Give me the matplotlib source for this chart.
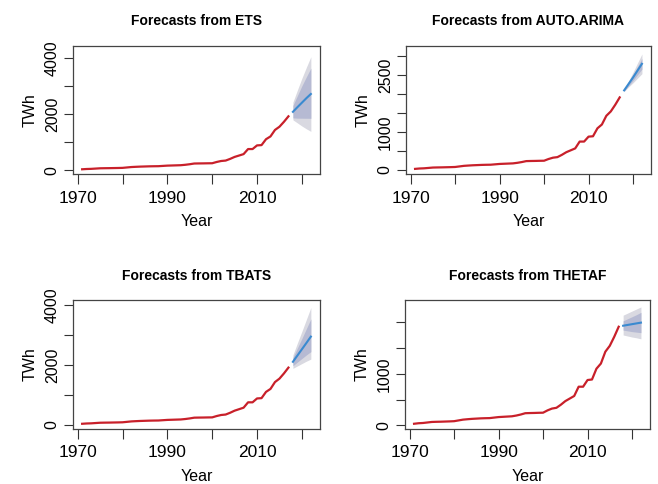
import numpy as np
import matplotlib
matplotlib.use('Agg')
import matplotlib.pyplot as plt

plt.rcParams['font.family'] = ['Liberation Sans', 'DejaVu Sans']

years = list(range(1971, 2018))
twh = [30, 40, 45, 55, 65, 68, 70, 73, 76, 80,
       95, 110, 118, 125, 130, 135, 138, 140, 150, 160,
       165, 170, 175, 190, 210, 235, 238, 240, 243, 245,
       290, 325, 340, 400, 470, 520, 570, 750, 750, 880,
       890, 1100, 1200, 1430, 1545, 1720, 1915]
fc_years = [2018, 2019, 2020, 2021, 2022]

# forecasts: mean, lo80, hi80, lo95, hi95
ets_mean = [2075, 2240, 2400, 2560, 2710]
ets_lo80 = [1860, 1850, 1848, 1846, 1845]
ets_hi80 = [2300, 2650, 3000, 3320, 3630]
ets_lo95 = [1790, 1680, 1570, 1470, 1380]
ets_hi95 = [2420, 2850, 3270, 3660, 4035]

arima_mean = [2100, 2270, 2440, 2620, 2800]
arima_lo80 = [2080, 2220, 2360, 2510, 2660]
arima_hi80 = [2120, 2320, 2520, 2730, 2940]
arima_lo95 = [2070, 2190, 2300, 2420, 2540]
arima_hi95 = [2130, 2350, 2580, 2820, 3060]

tbats_mean = [2110, 2320, 2530, 2740, 2955]
tbats_lo80 = [1980, 2100, 2220, 2340, 2450]
tbats_hi80 = [2250, 2570, 2890, 3220, 3550]
tbats_lo95 = [1890, 1970, 2050, 2130, 2200]
tbats_hi95 = [2340, 2740, 3130, 3530, 3930]

theta_mean = [1935, 1950, 1965, 1980, 1995]
theta_lo80 = [1850, 1835, 1820, 1810, 1800]
theta_hi80 = [2030, 2070, 2110, 2150, 2195]
theta_lo95 = [1755, 1735, 1715, 1700, 1680]
theta_hi95 = [2140, 2180, 2220, 2260, 2300]

x_ticks = [1970, 1980, 1990, 2000, 2010, 2020]
x_labels = ['1970', '', '1990', '', '2010', '']

RED = '#c8202a'
BLUE = '#3a8ad0'
OUTER = '#d9d9e1'
INNER = '#b6bad3'


def panel(ax, title, mean, lo80, hi80, lo95, hi95, ylim, yticks, ylabels):
    ax.fill_between(fc_years, lo95, hi95, color=OUTER, lw=0)
    ax.fill_between(fc_years, lo80, hi80, color=INNER, lw=0)
    ax.plot(years, twh, color=RED, lw=1.6)
    ax.plot(fc_years, mean, color=BLUE, lw=1.5)
    ax.set_xlim(1968.96, 2024.04)
    ax.set_ylim(*ylim)
    ax.set_xticks(x_ticks)
    ax.set_xticklabels(x_labels, fontsize=12.5)
    ax.set_yticks(yticks)
    ax.set_yticklabels(ylabels, fontsize=11.5, rotation=90, va='center')
    ax.tick_params(axis='x', length=7, width=0.8, pad=5, color='#333333')
    ax.tick_params(axis='y', length=6.5, width=0.8, pad=3, color='#333333')
    for s in ax.spines.values():
        s.set_linewidth(0.9)
        s.set_color('#444444')
    ax.set_title(title, fontsize=10, fontweight='bold', pad=15)
    ax.set_xlabel('Year', fontsize=11.5, labelpad=6)
    ax.set_ylabel('TWh', fontsize=11.5, labelpad=5)


fig = plt.figure(figsize=(6.58, 4.84), dpi=100)
w1 = 247 / 658
w2 = 245 / 658
h = 128.3 / 484
ax1 = fig.add_axes([73 / 658, 1 - 174 / 484, w1, h])
ax2 = fig.add_axes([406 / 658, 1 - 174 / 484, w2, h])
ax3 = fig.add_axes([73 / 658, 1 - 428.7 / 484, w1, h])
ax4 = fig.add_axes([405 / 658, 1 - 428.7 / 484, w2, h])

panel(ax1, 'Forecasts from ETS', ets_mean, ets_lo80, ets_hi80, ets_lo95, ets_hi95,
      (-138, 4429), [0, 1000, 2000, 3000, 4000], ['0', '', '2000', '', '4000'])
panel(ax2, 'Forecasts from AUTO.ARIMA', arima_mean, arima_lo80, arima_hi80, arima_lo95, arima_hi95,
      (-105, 3278), [0, 500, 1000, 1500, 2000, 2500, 3000], ['0', '', '1000', '', '', '2500', ''])
panel(ax3, 'Forecasts from TBATS', tbats_mean, tbats_lo80, tbats_hi80, tbats_lo95, tbats_hi95,
      (-135, 4170), [0, 1000, 2000, 3000, 4000], ['0', '', '2000', '', '4000'])
panel(ax4, 'Forecasts from THETAF', theta_mean, theta_lo80, theta_hi80, theta_lo95, theta_hi95,
      (-66, 2427), [0, 500, 1000, 1500, 2000], ['0', '', '1000', '', ''])

fig.savefig('out.png', dpi=100)
